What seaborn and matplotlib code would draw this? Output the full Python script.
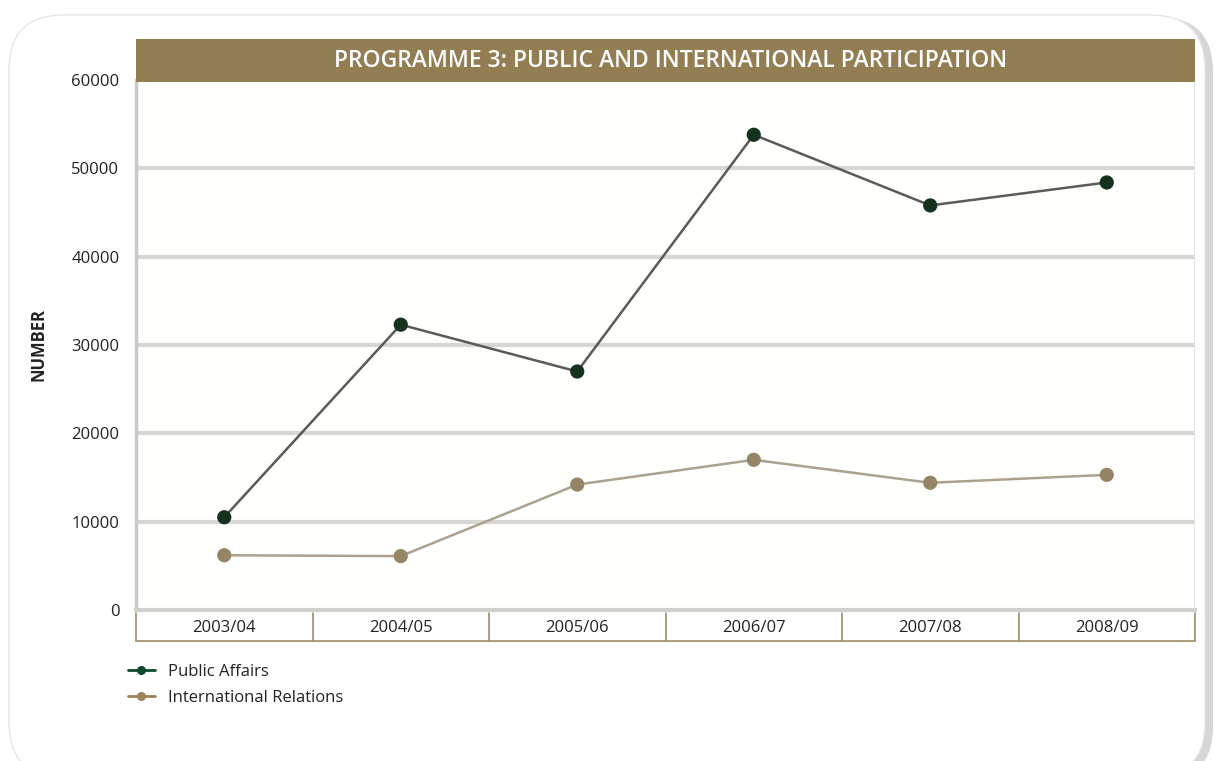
import matplotlib
matplotlib.use("Agg")
import matplotlib.pyplot as plt
import seaborn as sns
import pandas as pd
from matplotlib.patches import FancyBboxPatch, Rectangle
from matplotlib.lines import Line2D

years = ["2003/04", "2004/05", "2005/06", "2006/07", "2007/08", "2008/09"]
public_affairs = [10500, 32300, 27000, 53800, 45800, 48400]
international_relations = [6200, 6100, 14200, 17000, 14400, 15300]
y_ticks = [0, 10000, 20000, 30000, 40000, 50000, 60000]

sns.set_theme(style="white")
plt.rcParams['font.family'] = ['Open Sans', 'DejaVu Sans']

W, H = 1215, 761
fig = plt.figure(figsize=(W / 100, H / 100), dpi=100)
fig.patch.set_facecolor("#ffffff")

# card background with shadow
shadow = FancyBboxPatch((13 / W, -20 / H), 1200 / W, (H + 20 - 17) / H,
                        boxstyle="round,pad=0,rounding_size=0.045",
                        transform=fig.transFigure, facecolor="#d6d6d6",
                        edgecolor="none", zorder=-2, mutation_aspect=W / H)
fig.patches.append(shadow)
card = FancyBboxPatch((9 / W, -16 / H), 1196 / W, (H + 16 - 15) / H,
                      boxstyle="round,pad=0,rounding_size=0.045",
                      transform=fig.transFigure, facecolor="#ffffff",
                      edgecolor="#e6e6e6", linewidth=1.0, zorder=-1,
                      mutation_aspect=W / H)
fig.patches.append(card)

ax_l, ax_r, ax_t, ax_b = 136, 1195, 80, 610
ax = fig.add_axes([ax_l / W, (H - ax_b) / H, (ax_r - ax_l) / W, (ax_b - ax_t) / H])
ax.set_facecolor("#fffffd")

df_pa = pd.DataFrame({"year": years, "value": public_affairs})
df_ir = pd.DataFrame({"year": years, "value": international_relations})

pa_line, pa_mark = "#5a5a58", "#15321f"
ir_line, ir_mark = "#aba18e", "#958566"

sns.lineplot(data=df_pa, x="year", y="value", ax=ax, color=pa_line,
             linewidth=1.8, sort=False, zorder=3)
sns.scatterplot(data=df_pa, x="year", y="value", ax=ax, color=pa_mark,
                s=105, edgecolor="none", zorder=4)
sns.lineplot(data=df_ir, x="year", y="value", ax=ax, color=ir_line,
             linewidth=1.8, sort=False, zorder=3)
sns.scatterplot(data=df_ir, x="year", y="value", ax=ax, color=ir_mark,
                s=105, edgecolor="none", zorder=4)

ax.set_xlim(-0.5, len(years) - 0.5)
ax.set_ylim(0, 60000)
ax.set_yticks(y_ticks)
ax.set_yticklabels([str(v) for v in y_ticks], fontsize=12, color="#222222")
ax.tick_params(axis="y", length=0, pad=12)
for v in y_ticks[1:-1]:
    ax.axhline(v, color="#d6d6d2", linewidth=3, zorder=1)

ax.set_xticks(range(len(years)))
ax.set_xticklabels(years, fontsize=12, color="#222222")
ax.tick_params(axis="x", length=0, pad=7)

for side in ["top", "right"]:
    ax.spines[side].set_visible(False)
ax.spines["left"].set_color("#c8c8c8")
ax.spines["left"].set_linewidth(2.5)
ax.spines["bottom"].set_color("#d0d0cc")
ax.spines["bottom"].set_linewidth(3)
ax.axvline(len(years) - 0.5, color="#e2e2e2", linewidth=2, zorder=1)

# category table below axis
tan = "#a08d62"
cell_h = 31 / (ax_b - ax_t)
trans = ax.get_xaxis_transform()
ax.add_line(Line2D([-0.5, len(years) - 0.5], [-cell_h, -cell_h], transform=trans,
                   color=tan, linewidth=1.2, clip_on=False))
for i in range(len(years) + 1):
    ax.add_line(Line2D([i - 0.5, i - 0.5], [-cell_h, -0.005], transform=trans,
                       color=tan, linewidth=1.2, clip_on=False))

ax.set_xlabel("")
ax.set_ylabel("NUMBER", fontsize=12, fontweight="bold", color="#222222", labelpad=17)

# title bar
fig.patches.append(Rectangle((ax_l / W, (H - 82) / H), (ax_r - ax_l) / W, 43 / H,
                             transform=fig.transFigure, facecolor="#937e53",
                             edgecolor="none", zorder=5))
fig.text(671 / W, (H - 61) / H,
         "PROGRAMME 3: PUBLIC AND INTERNATIONAL PARTICIPATION",
         ha="center", va="center", color="white", fontsize=16.5,
         fontweight="semibold", zorder=6)

# legend
handles = [Line2D([], [], color="#0d4a2a", marker="o", markersize=5.5, linewidth=2),
           Line2D([], [], color="#9a8456", marker="o", markersize=5.5, linewidth=2)]
fig.legend(handles, ["Public Affairs", "International Relations"],
           loc="upper left", bbox_to_anchor=(113 / W, (H - 649) / H),
           frameon=False, fontsize=12, handlelength=1.6, handletextpad=0.8,
           labelspacing=0.6, labelcolor="#222222")

fig.savefig("out.png", dpi=100, facecolor=fig.get_facecolor())
